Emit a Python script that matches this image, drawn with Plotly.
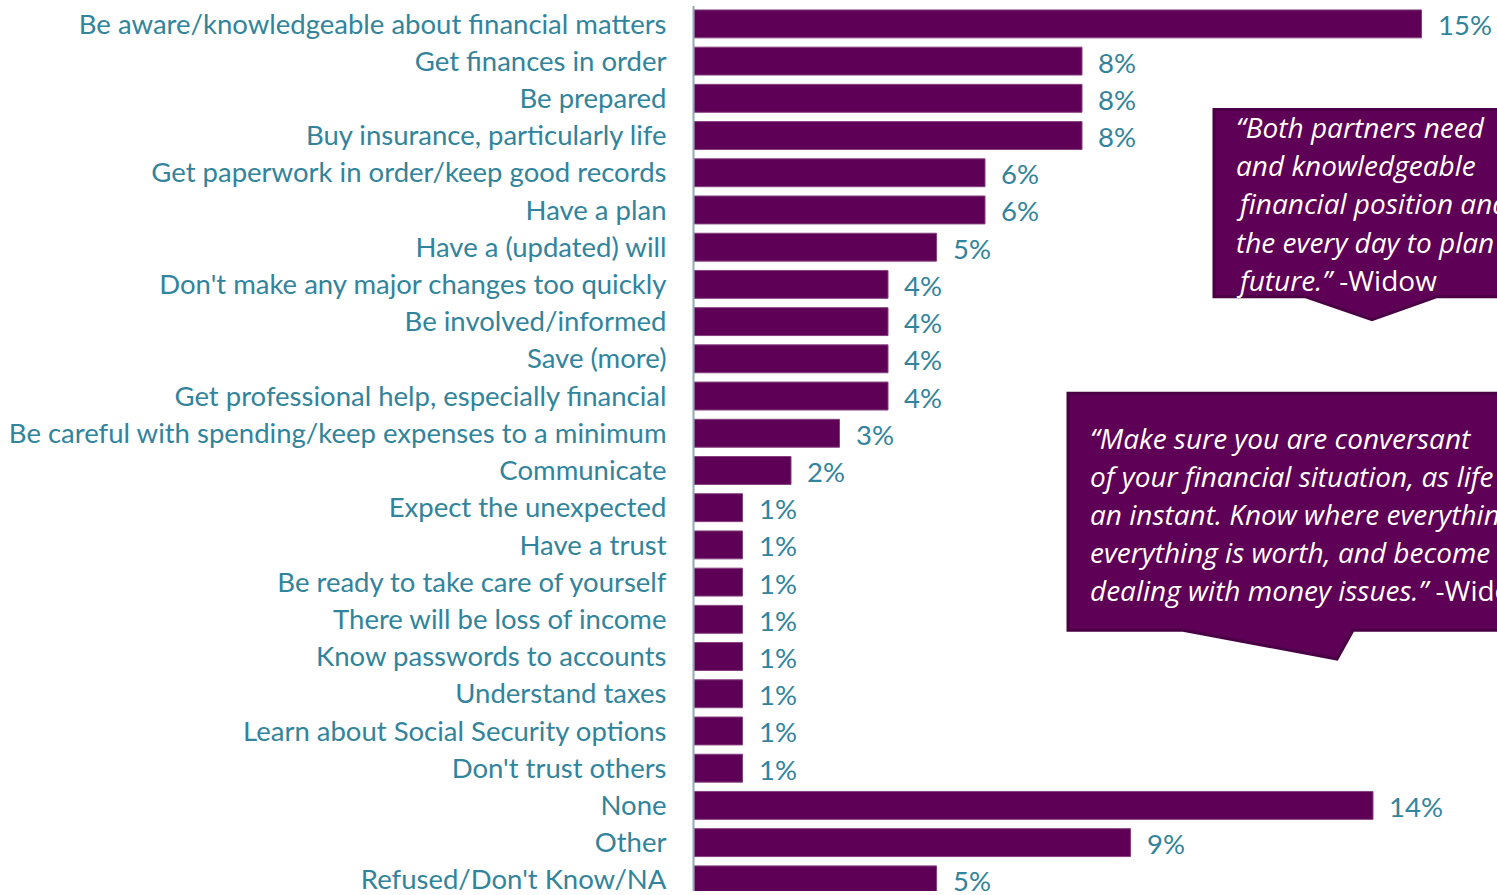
import plotly.graph_objects as go

# Survey responses: advice for others, share of respondents (%)
categories = [
    "Be aware/knowledgeable about financial matters",
    "Get finances in order",
    "Be prepared",
    "Buy insurance, particularly life",
    "Get paperwork in order/keep good records",
    "Have a plan",
    "Have a (updated) will",
    "Don't make any major changes too quickly",
    "Be involved/informed",
    "Save (more)",
    "Get professional help, especially financial",
    "Be careful with spending/keep expenses to a minimum",
    "Communicate",
    "Expect the unexpected",
    "Have a trust",
    "Be ready to take care of yourself",
    "There will be loss of income",
    "Know passwords to accounts",
    "Understand taxes",
    "Learn about Social Security options",
    "Don't trust others",
    "None",
    "Other",
    "Refused/Don't Know/NA",
]
values = [15, 8, 8, 8, 6, 6, 5, 4, 4, 4, 4, 3, 2, 1, 1, 1, 1, 1, 1, 1, 1, 14, 9, 5]

quote_1 = [
    "<i>“Both partners need</i>",
    "<i>and knowledgeable</i>",
    "<i>financial position and</i>",
    "<i>the every day to plan</i>",
    "<i>future.”</i> -Widow",
]
quote_2 = [
    "<i>“Make sure you are conversant</i>",
    "<i>of your financial situation, as life</i>",
    "<i>an instant. Know where everything</i>",
    "<i>everything is worth, and become</i>",
    "<i>dealing with money issues.”</i> -Widow",
]

W, H = 1497, 895
ML = 694
PURPLE = "#5E0055"
PURPLE_DARK = "#4A0044"
TEAL = "#31849B"
FONT = "Lato"
FS = 27.5
QFONT = "Open Sans"
QFS = 28


def px(x):
    return (x - ML) / (W - ML)


def py(y):
    return 1 - y / H


def path(points):
    d = "M " + " L ".join(f"{px(x):.5f},{py(y):.5f}" for x, y in points) + " Z"
    return d


fig = go.Figure(
    go.Bar(
        x=values,
        y=categories,
        orientation="h",
        marker=dict(color=PURPLE, line=dict(color="#86407F", width=1)),
        hoverinfo="skip",
    )
)

# value labels next to each bar
annotations = [
    dict(
        x=v, y=c, xref="x", yref="y", text=f"{v}%", showarrow=False,
        xanchor="left", xshift=14, yshift=-1,
        font=dict(family=FONT, size=FS, color=TEAL),
    )
    for c, v in zip(categories, values)
]

# quote callouts
for lines, x0, y0 in ((quote_1, 1234, 128), (quote_2, 1088, 440)):
    for i, t in enumerate(lines):
        annotations.append(dict(
            x=px(x0), y=py(y0 + i * 38.2), xref="paper", yref="paper",
            text=t, showarrow=False, xanchor="left", yanchor="middle",
            font=dict(family=QFONT, size=QFS, color="white"),
        ))

shapes = [
    dict(type="line", xref="paper", yref="paper",
         x0=px(693.5), x1=px(693.5), y0=py(6), y1=py(H),
         line=dict(color="#8FA9B8", width=2), layer="above"),
    dict(type="path", xref="paper", yref="paper", layer="below",
         path=path([(1214, 110), (1520, 110), (1520, 298), (1437, 298),
                    (1372, 321), (1305, 298), (1214, 298)]),
         fillcolor=PURPLE, line=dict(color=PURPLE_DARK, width=3)),
    dict(type="path", xref="paper", yref="paper", layer="below",
         path=path([(1068, 395), (1520, 395), (1520, 633), (1353, 633),
                    (1337, 662), (1183, 633), (1068, 633)]),
         fillcolor=PURPLE, line=dict(color=PURPLE_DARK, width=3)),
]

fig.update_layout(
    width=W, height=H,
    margin=dict(l=ML, r=0, t=0, b=0),
    paper_bgcolor="white", plot_bgcolor="rgba(0,0,0,0)",
    bargap=0.25,
    showlegend=False,
    annotations=annotations,
    shapes=shapes,
    xaxis=dict(range=[0, (W - ML) / 48.5], visible=False, fixedrange=True),
    yaxis=dict(
        categoryorder="array", categoryarray=categories,
        range=[23.30, -0.642],
        showgrid=False, zeroline=False, showline=False,
        ticks="outside", ticklen=21, tickcolor="rgba(0,0,0,0)",
        tickfont=dict(family=FONT, size=FS, color=TEAL),
        fixedrange=True,
    ),
)

fig.write_html("out.html", config={"displayModeBar": False})
